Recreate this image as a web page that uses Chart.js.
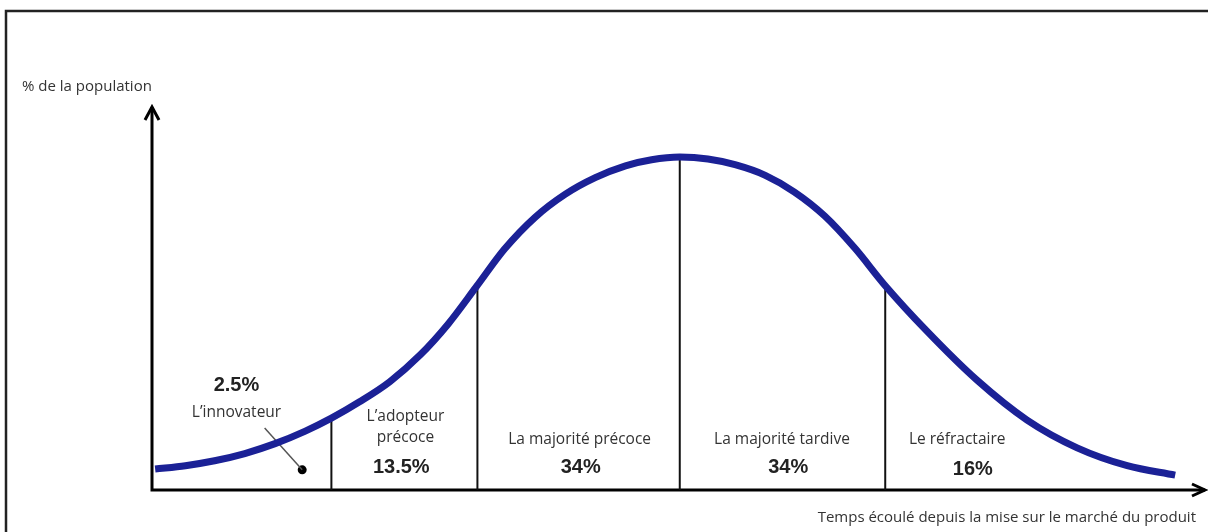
<!DOCTYPE html>
<html lang="fr">
<head>
<meta charset="utf-8">
<title>Courbe de diffusion de l'innovation</title>
<script src="https://cdn.jsdelivr.net/npm/chart.js@4/dist/chart.umd.min.js"></script>
<style>
    body { margin: 0; background: #fff; }
    #wrap { position: relative; width: 1208px; height: 532px; }
</style>
</head>
<body>
<div id="wrap"><canvas id="adoptionChart"></canvas></div>
<script>
// Bell curve (x: time, y: % of population, arbitrary units 0-100)
const curveTime = [0.3, 3.2, 6.0, 8.9, 11.8, 14.7, 17.2, 19.9, 22.8, 25.7, 28.4, 31.1, 33.8, 36.7, 39.6, 42.5, 45.4, 47.9, 50.6,
    53.3, 55.9, 58.8, 61.6, 64.5, 67.4, 70.2, 74.3, 79.1, 83.9, 88.7, 93.5, 98.1];
const curvePopulation = [5.5, 6.4, 7.7, 9.6, 12.2, 15.5, 18.9, 23.2, 28.5, 35.5, 43.7, 53.5, 63.4, 71.7, 77.8, 82.2, 85.3, 86.9, 87.6,
    87.1, 85.6, 82.8, 78.4, 72.1, 63.6, 54.1, 41.8, 28.9, 18.4, 11.1, 6.4, 3.9];

// Segment boundaries (vertical lines up to the curve)
const boundaryTime = [17.2, 31.2, 50.6, 70.3];
const boundaryPopulation = [18.9, 53.8, 87.6, 53.8];

// Segment names and shares
const segmentNames = ['L\u2019innovateur', 'L\u2019adopteur|précoce', 'La majorité précoce', 'La majorité tardive', 'Le réfractaire'];
const segmentShares = ['2.5%', '13.5%', '34%', '34%', '16%'];

// Innovator marker and its leader line
const innovatorDot = [{ x: 14.4, y: 5.3 }];
const innovatorLeader = [{ x: 10.8, y: 16.3 }, { x: 14.4, y: 5.3 }];

const yAxisTitle = '% de la population';
const xAxisTitle = 'Temps écoulé depuis la mise sur le marché du produit';

// where each segment's text sits (data units): name position, share position
const labelSpots = [
    { name: [8.1, 20.5], share: [8.1, 27.6] },
    { name: [24.3, 19.2], share: [23.9, 5.8] },
    { name: [41.0, 13.2], share: [41.1, 5.8] },
    { name: [60.4, 13.2], share: [61.0, 5.8] },
    { name: [77.2, 13.2], share: [78.7, 5.3] }
];

const LABEL_FONT = '15.5px "Open Sans", "Noto Sans", sans-serif';
const AXIS_FONT = '15px "Open Sans", "Noto Sans", sans-serif';
const SHARE_FONT = 'bold 20px "Liberation Sans", Arial, sans-serif';

const decorPlugin = {
    id: 'decor',
    beforeDatasetsDraw(chart) {
        const { ctx, scales: { x, y } } = chart;
        const x0 = x.getPixelForValue(0);
        const y0 = y.getPixelForValue(0);
        const yTop = y.getPixelForValue(100) - 3;
        const xEnd = x.getPixelForValue(100) + 10;

        ctx.save();
        // outer frame (left and top edges visible)
        ctx.strokeStyle = '#222';
        ctx.lineWidth = 2.5;
        ctx.beginPath();
        ctx.moveTo(6, 540);
        ctx.lineTo(6, 11);
        ctx.lineTo(1220, 11);
        ctx.stroke();

        // axes
        ctx.strokeStyle = '#000';
        ctx.lineWidth = 3;
        ctx.lineJoin = 'miter';
        ctx.beginPath();
        ctx.moveTo(x0, y0 + 1.5);
        ctx.lineTo(x0, yTop);
        ctx.moveTo(x0 - 1.5, y0);
        ctx.lineTo(xEnd, y0);
        ctx.stroke();

        // arrow heads
        ctx.beginPath();
        ctx.moveTo(x0 - 7, yTop + 13);
        ctx.lineTo(x0, yTop);
        ctx.lineTo(x0 + 7, yTop + 13);
        ctx.moveTo(xEnd - 13, y0 - 6);
        ctx.lineTo(xEnd, y0);
        ctx.lineTo(xEnd - 13, y0 + 6);
        ctx.stroke();
        ctx.restore();
    },
    afterDraw(chart) {
        const { ctx, scales: { x, y } } = chart;
        ctx.save();
        ctx.textBaseline = 'middle';

        ctx.fillStyle = '#333';
        ctx.font = AXIS_FONT;
        ctx.textAlign = 'left';
        ctx.fillText(yAxisTitle, 22, 87);
        ctx.textAlign = 'right';
        ctx.fillText(xAxisTitle, x.getPixelForValue(100) + 1, 518);

        ctx.textAlign = 'center';
        segmentNames.forEach((name, i) => {
            const spot = labelSpots[i];
            const px = x.getPixelForValue(spot.name[0]);
            const py = y.getPixelForValue(spot.name[1]);
            ctx.fillStyle = '#333';
            ctx.font = LABEL_FONT;
            name.split('|').forEach((line, j) => ctx.fillText(line, px, py + j * 21));

            ctx.fillStyle = '#222';
            ctx.font = SHARE_FONT;
            ctx.fillText(segmentShares[i], x.getPixelForValue(spot.share[0]), y.getPixelForValue(spot.share[1]));
        });
        ctx.restore();
    }
};

const boundaryDatasets = boundaryTime.map((t, i) => ({
    data: [{ x: t, y: 0 }, { x: t, y: boundaryPopulation[i] }],
    borderColor: '#111',
    borderWidth: 2,
    pointRadius: 0
}));

new Chart(document.getElementById('adoptionChart'), {
    type: 'line',
    data: {
        datasets: [
            {
                data: curveTime.map((t, i) => ({ x: t, y: curvePopulation[i] })),
                borderColor: '#1b2196',
                borderWidth: 7,
                pointRadius: 0,
                cubicInterpolationMode: 'monotone',
                borderCapStyle: 'butt'
            },
            ...boundaryDatasets,
            {
                data: innovatorLeader,
                borderColor: '#555',
                borderWidth: 1.5,
                pointRadius: 0
            },
            {
                data: innovatorDot,
                showLine: false,
                pointRadius: 4.5,
                pointBackgroundColor: '#000',
                pointBorderWidth: 0
            }
        ]
    },
    options: {
        responsive: true,
        maintainAspectRatio: false,
        animation: false,
        layout: { padding: { left: 152, right: 13, top: 110, bottom: 42 } },
        scales: {
            x: { type: 'linear', min: 0, max: 100, display: false },
            y: { min: 0, max: 100, display: false }
        },
        plugins: {
            legend: { display: false },
            tooltip: { enabled: false }
        }
    },
    plugins: [decorPlugin]
});
</script>
</body>
</html>
